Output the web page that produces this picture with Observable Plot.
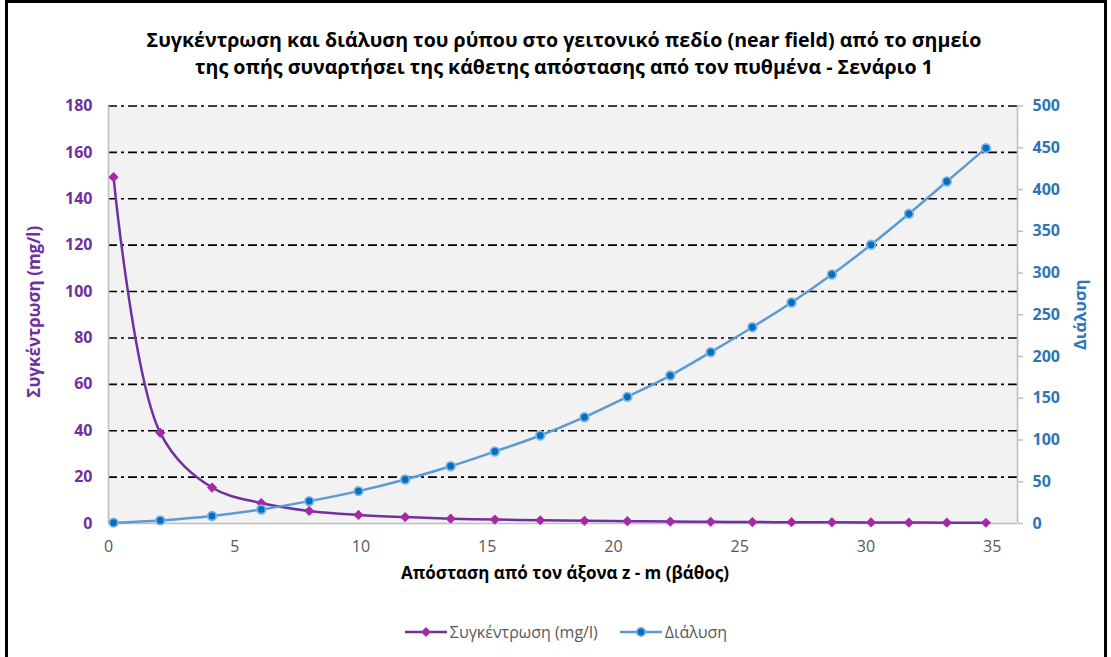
<!DOCTYPE html>
<html>
<head>
<meta charset="utf-8">
<script src="https://cdn.jsdelivr.net/npm/d3@7"></script>
<script src="https://cdn.jsdelivr.net/npm/@observablehq/plot@0.6"></script>
<style>
  body { margin: 0; background: #fff; }
  #chart { position: relative; width: 1111px; height: 657px; overflow: hidden; background: #fff;
           font-family: "Open Sans", "Noto Sans", sans-serif; }
  #frame { position: absolute; left: 5px; top: 0px; width: 1102px; height: 700px;
           border: 3px solid #000; box-sizing: border-box; }
  #title { position: absolute; left: 0; width: 1128px; top: 26px; text-align: center;
           font-weight: bold; font-size: 19.6px; line-height: 27px; color: #000; }
  #title span { display: inline-block; white-space: nowrap; }
  #plot { position: absolute; left: 0; top: 90px; }
  #legend { position: absolute; left: 0; width: 1132px; top: 621px; display: flex;
            justify-content: center; gap: 22px; font-size: 16px; color: #595959; }
  .item { display: flex; align-items: center; gap: 3px; }
</style>
</head>
<body>
<div id="chart">
  <div id="frame"></div>
  <div id="title"></div>
  <div id="plot"></div>
  <div id="legend"></div>
</div>
<script>
// Vertical distance from the nozzle axis z (m)
const distance = [0.2, 2.05, 4.1, 6.05, 7.95, 9.9, 11.75, 13.55, 15.3, 17.1, 18.85,
                  20.55, 22.25, 23.85, 25.5, 27.05, 28.65, 30.2, 31.7, 33.2, 34.75];
// Pollutant concentration (mg/l), left axis
const concentration = [149.3, 39.1, 15.5, 8.8, 5.4, 3.7, 2.75, 2.1, 1.7, 1.4, 1.15,
                       0.98, 0.84, 0.72, 0.63, 0.56, 0.5, 0.45, 0.4, 0.36, 0.33];
// Dilution, right axis
const dilution = [1.0, 3.7, 9.0, 16.8, 26.8, 38.8, 52.7, 68.6, 86.2, 105.4, 127.3,
                  151.7, 177.2, 205.2, 235.1, 264.7, 298.2, 333.8, 370.9, 409.6, 449.5];

const xTicks = [0, 5, 10, 15, 20, 25, 30, 35];
const leftTicks = [0, 20, 40, 60, 80, 100, 120, 140, 160, 180];
const rightTicks = [0, 50, 100, 150, 200, 250, 300, 350, 400, 450, 500];

const titleLines = [
  "Συγκέντρωση και διάλυση του ρύπου στο γειτονικό πεδίο (near field) από το σημείο",
  "της οπής συναρτήσει της κάθετης απόστασης από τον πυθμένα - Σενάριο 1"
];
const xLabel = "Απόσταση από τον άξονα z - m (βάθος)";
const leftLabel = "Συγκέντρωση (mg/l)";
const rightLabel = "Διάλυση";
const seriesNames = ["Συγκέντρωση (mg/l)", "Διάλυση"];

const purpleLine = "#7030a0", purpleMark = "#a52aa5";
const blueLine = "#5b9bd5", blueMark = "#0070c0";
const fontFamily = '"Open Sans", "Noto Sans", sans-serif';

// Right axis (0–500) mapped onto the left scale (0–180)
const right = d3.scaleLinear([0, 500], [0, 180]);

const concRows = distance.map((z, i) => ({z, v: concentration[i]}));
const dilRows = distance.map((z, i) => ({z, v: right(dilution[i])}));

const chart = Plot.plot({
  width: 1111,
  height: 510,
  marginLeft: 108,
  marginRight: 94,
  marginTop: 15.5,
  marginBottom: 77,
  style: {background: "transparent", fontFamily, overflow: "visible"},
  x: {domain: [0, 36], label: null},
  y: {domain: [0, 180], label: null},
  marks: [
    Plot.frame({fill: "#f2f2f2", stroke: null}),
    Plot.ruleY(leftTicks.slice(1), {stroke: "#000", strokeWidth: 1.6, strokeDasharray: "9,4,3,4"}),
    Plot.ruleX([0, 36], {stroke: "#bfbfbf", strokeWidth: 1.6}),
    Plot.ruleY([0], {stroke: "#bfbfbf", strokeWidth: 1.6}),
    Plot.axisY(leftTicks, {anchor: "left", tickSize: 0, tickPadding: 16, fill: purpleLine,
      fontWeight: "bold", fontSize: 16, label: null}),
    Plot.axisY(rightTicks.map(right), {anchor: "right", tickSize: 5, tickPadding: 10,
      stroke: "#bfbfbf", strokeWidth: 1.5, fill: "#2e75b6", fontWeight: "bold", fontSize: 16,
      tickFormat: d => Math.round(right.invert(d)), label: null}),
    Plot.axisX(xTicks, {anchor: "bottom", tickSize: 0, tickPadding: 17, fill: "#595959",
      fontSize: 16, label: null}),
    Plot.text([leftLabel], {text: d => d, frameAnchor: "left", textAnchor: "middle", dx: -74, dy: -3,
      rotate: -90, fill: purpleLine, fontWeight: "bold", fontSize: 17}),
    Plot.text([rightLabel], {text: d => d, frameAnchor: "right", textAnchor: "middle", dx: 63,
      rotate: -90, fill: "#2e75b6", fontWeight: "bold", fontSize: 16.5}),
    Plot.text([xLabel], {text: d => d, frameAnchor: "bottom", dy: 55, dx: 2,
      fill: "#000", fontWeight: "bold", fontSize: 17}),
    Plot.line(concRows, {x: "z", y: "v", curve: "catmull-rom", stroke: purpleLine, strokeWidth: 2.5}),
    Plot.line(dilRows, {x: "z", y: "v", curve: "catmull-rom", stroke: blueLine, strokeWidth: 2.5}),
    Plot.dot(concRows, {x: "z", y: "v", symbol: "diamond2", r: 4.6, fill: purpleMark, stroke: null}),
    Plot.dot(dilRows, {x: "z", y: "v", r: 4.3, fill: blueMark, stroke: "#7fb2e0", strokeWidth: 1.8})
  ]
});
document.getElementById("plot").appendChild(chart);

// Title lines
const title = document.getElementById("title");
titleLines.forEach(t => {
  const s = document.createElement("span");
  s.textContent = t;
  title.appendChild(s);
  title.appendChild(document.createElement("br"));
});

// Legend
const legend = document.getElementById("legend");
const swatch = (color, mark) => {
  const ns = "http://www.w3.org/2000/svg";
  const svg = document.createElementNS(ns, "svg");
  svg.setAttribute("width", 42); svg.setAttribute("height", 14);
  const l = document.createElementNS(ns, "line");
  l.setAttribute("x1", 0); l.setAttribute("x2", 42); l.setAttribute("y1", 7); l.setAttribute("y2", 7);
  l.setAttribute("stroke", color); l.setAttribute("stroke-width", 2.5);
  svg.appendChild(l);
  const m = document.createElementNS(ns, "path");
  m.setAttribute("d", mark === "diamond" ? "M21,2L26,7L21,12L16,7Z" : "M25.3,7A4.3,4.3,0,1,1,16.7,7A4.3,4.3,0,1,1,25.3,7Z");
  m.setAttribute("fill", mark === "diamond" ? purpleMark : blueMark);
  if (mark !== "diamond") { m.setAttribute("stroke", "#7fb2e0"); m.setAttribute("stroke-width", 1.5); }
  svg.appendChild(m);
  return svg;
};
[[purpleLine, "diamond"], [blueLine, "circle"]].forEach(([c, mk], i) => {
  const it = document.createElement("div");
  it.className = "item";
  it.appendChild(swatch(c, mk));
  const t = document.createElement("span");
  t.textContent = seriesNames[i];
  it.appendChild(t);
  legend.appendChild(it);
});
</script>
</body>
</html>
